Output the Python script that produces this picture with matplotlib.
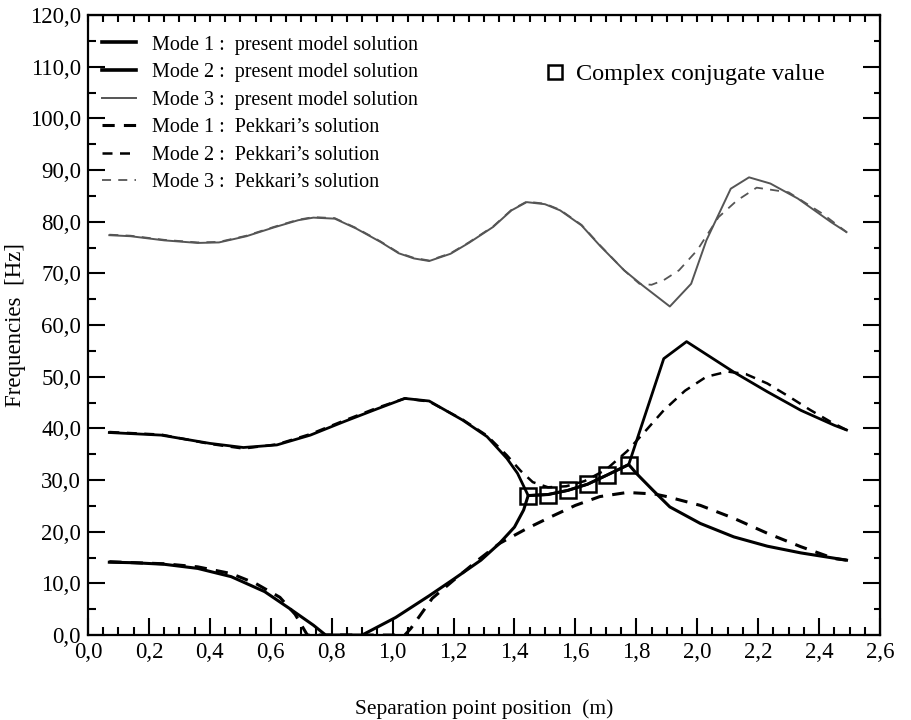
import matplotlib
matplotlib.use('Agg')
import matplotlib.pyplot as plt
from matplotlib.ticker import MultipleLocator, FuncFormatter, NullFormatter

plt.rcParams['font.family'] = ['Liberation Serif', 'DejaVu Serif']

# Mode 1 : present model solution
mode1_x = [0.07, 0.15, 0.25, 0.36, 0.47, 0.58, 0.66, 0.74, 0.78, 0.90, 1.01, 1.12, 1.20,
           1.29, 1.35, 1.40, 1.43, 1.445, 1.51, 1.575, 1.64, 1.705, 1.775, 1.80, 1.855,
           1.91, 2.01, 2.12, 2.23, 2.34, 2.49]
mode1_y = [14.1, 14.0, 13.7, 12.9, 11.3, 8.4, 5.2, 1.9, 0.0, 0.0, 3.4, 7.6, 10.8,
           14.5, 17.7, 20.9, 24.2, 27.0, 27.2, 28.0, 29.2, 31.0, 33.0, 31.3, 28.0,
           24.8, 21.6, 19.0, 17.2, 15.9, 14.5]

# Mode 2 : present model solution
mode2_x = [0.07, 0.24, 0.40, 0.51, 0.62, 0.73, 0.84, 0.95, 1.04, 1.12, 1.23, 1.31,
           1.375, 1.41, 1.445, 1.51, 1.575, 1.64, 1.705, 1.775, 1.89, 1.965, 2.12,
           2.23, 2.34, 2.45, 2.49]
mode2_y = [39.2, 38.7, 37.1, 36.3, 36.8, 38.7, 41.3, 43.8, 45.8, 45.3, 41.6, 38.4,
           34.2, 31.3, 27.0, 27.2, 28.0, 29.2, 31.0, 33.0, 53.5, 56.8, 50.9,
           47.1, 43.5, 40.6, 39.7]

# Mode 3 : present model solution
mode3_x = [0.07, 0.14, 0.25, 0.36, 0.43, 0.52, 0.61, 0.69, 0.74, 0.81, 0.88, 0.96,
           1.02, 1.07, 1.12, 1.19, 1.25, 1.33, 1.39, 1.44, 1.50, 1.55, 1.62, 1.68,
           1.76, 1.82, 1.91, 1.98, 2.03, 2.11, 2.17, 2.24, 2.33, 2.44, 2.49]
mode3_y = [77.4, 77.2, 76.4, 75.9, 76.0, 77.2, 78.9, 80.3, 80.8, 80.6, 78.7, 76.1,
           73.9, 72.9, 72.4, 73.8, 75.9, 79.0, 82.2, 83.8, 83.4, 82.2, 79.3, 75.4,
           70.6, 67.7, 63.6, 68.0, 76.4, 86.4, 88.6, 87.4, 84.5, 79.9, 78.0]

# Pekkari's solution, modes 1-3
pek1_x = [0.07, 0.15, 0.25, 0.36, 0.47, 0.55, 0.63, 0.68, 0.72, 1.04, 1.06, 1.13, 1.20,
          1.28, 1.35, 1.44, 1.52, 1.60, 1.68, 1.77, 1.86, 1.90, 2.01, 2.12, 2.23,
          2.34, 2.45, 2.49]
pek1_y = [14.2, 14.0, 13.8, 13.2, 11.9, 10.0, 7.3, 4.0, 0.0, 0.0, 1.3, 7.1, 10.6,
          14.5, 17.7, 20.6, 22.9, 25.1, 26.8, 27.6, 27.3, 26.8, 25.1, 22.6, 19.7,
          17.1, 14.8, 14.5]

pek2_x = [0.07, 0.24, 0.40, 0.51, 0.62, 0.73, 0.84, 0.95, 1.04, 1.12, 1.23, 1.31,
          1.375, 1.42, 1.46, 1.51, 1.57, 1.63, 1.70, 1.77, 1.83, 1.89, 1.96, 2.03,
          2.10, 2.16, 2.23, 2.30, 2.37, 2.44, 2.49]
pek2_y = [39.3, 38.8, 37.0, 36.1, 36.9, 38.9, 41.5, 44.0, 45.8, 45.2, 41.7, 38.6,
          34.8, 31.8, 29.6, 28.6, 28.8, 29.8, 32.0, 35.6, 39.5, 43.5, 47.3, 50.0,
          51.0, 50.5, 48.7, 46.2, 43.6, 41.2, 39.7]

pek3_x = [0.07, 0.14, 0.25, 0.36, 0.43, 0.52, 0.61, 0.69, 0.74, 0.81, 0.88, 0.96,
          1.02, 1.07, 1.12, 1.19, 1.25, 1.33, 1.39, 1.44, 1.50, 1.55, 1.62, 1.68,
          1.76, 1.81, 1.85, 1.89, 1.94, 2.00, 2.07, 2.13, 2.195, 2.30, 2.41, 2.49]
pek3_y = [77.5, 77.3, 76.5, 76.0, 76.1, 77.3, 79.0, 80.4, 80.9, 80.7, 78.8, 76.2,
          74.0, 73.0, 72.5, 73.9, 76.0, 79.1, 82.3, 83.9, 83.5, 82.3, 79.4, 75.5,
          70.6, 68.0, 67.8, 68.7, 70.6, 74.5, 80.9, 84.1, 86.6, 85.7, 81.6, 78.0]

# complex conjugate region
cc_x = [1.445, 1.51, 1.575, 1.64, 1.705, 1.775]
cc_y = [27.0, 27.2, 28.0, 29.2, 31.0, 33.0]

fig = plt.figure(figsize=(9.11, 7.2), dpi=100)
ax = fig.add_axes([0.0966, 0.118, 0.8694, 0.861])

l1, = ax.plot(mode1_x, mode1_y, color='black', lw=2.2,
              label='Mode 1 :  present model solution')
l2, = ax.plot(mode2_x, mode2_y, color='black', lw=2.0,
              label='Mode 2 :  present model solution')
l3, = ax.plot(mode3_x, mode3_y, color='#555555', lw=1.4,
              label='Mode 3 :  present model solution')
p1, = ax.plot(pek1_x, pek1_y, color='black', lw=2.2, dashes=(4, 3),
              label='Mode 1 :  Pekkari\u2019s solution')
p2, = ax.plot(pek2_x, pek2_y, color='black', lw=1.8, dashes=(4, 3),
              label='Mode 2 :  Pekkari\u2019s solution')
p3, = ax.plot(pek3_x, pek3_y, color='#555555', lw=1.3, dashes=(5, 4),
              label='Mode 3 :  Pekkari\u2019s solution')
sq, = ax.plot(cc_x, cc_y, ls='none', marker='s', markersize=12, mfc='none',
              mec='black', mew=1.8, label='Complex conjugate value')

comma = FuncFormatter(lambda v, p: f'{v:.1f}'.replace('.', ','))
ax.set_xlim(0, 2.6)
ax.set_ylim(0, 120)
ax.xaxis.set_major_locator(MultipleLocator(0.2))
ax.xaxis.set_minor_locator(MultipleLocator(0.05))
ax.yaxis.set_major_locator(MultipleLocator(10))
ax.yaxis.set_minor_locator(MultipleLocator(5))
ax.xaxis.set_major_formatter(comma)
ax.yaxis.set_major_formatter(comma)
ax.tick_params(which='both', direction='in', top=False, right=False, labelsize=16.5,
               width=1.5)
ax.tick_params(axis='x', which='major', length=12, pad=5)
ax.tick_params(axis='y', which='major', length=12, pad=5)
ax.tick_params(which='minor', length=6)
for s in ax.spines.values():
    s.set_linewidth(1.6)

# short ticks along the top and right frame
top = ax.secondary_xaxis('top')
top.xaxis.set_major_locator(MultipleLocator(0.05))
top.xaxis.set_major_formatter(NullFormatter())
top.tick_params(direction='in', length=5, width=1.5)
right = ax.secondary_yaxis('right')
right.yaxis.set_major_locator(MultipleLocator(10))
right.yaxis.set_minor_locator(MultipleLocator(5))
right.yaxis.set_major_formatter(NullFormatter())
right.tick_params(which='major', direction='in', length=12, width=1.5)
right.tick_params(which='minor', direction='in', length=4, width=1.5)

ax.set_xlabel('Separation point position  (m)', fontsize=15.5, labelpad=26)
ax.set_ylabel('Frequencies  [Hz]', fontsize=16.5, labelpad=3)

leg1 = ax.legend(handles=[l1, l2, l3, p1, p2, p3], loc='upper left', frameon=False,
                 fontsize=14.5, handlelength=1.7, handletextpad=0.8,
                 labelspacing=0.42, borderaxespad=0.3, bbox_to_anchor=(0.0, 0.99))
for h in leg1.legend_handles[:2]:
    h.set_linewidth(2.6)
ax.add_artist(leg1)
ax.legend(handles=[sq], loc='upper left', frameon=False, fontsize=17.5,
          handlelength=0.9, handletextpad=0.4, bbox_to_anchor=(0.548, 0.958),
          markerscale=0.8)

fig.savefig('out.png', dpi=100)
